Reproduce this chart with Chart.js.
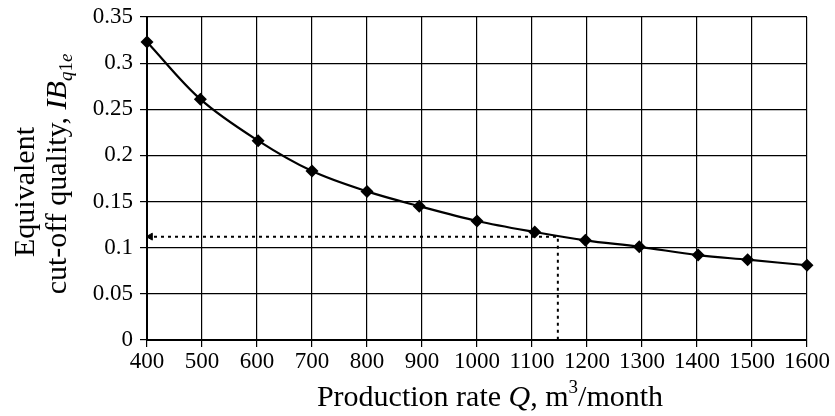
<!DOCTYPE html>
<html>
<head>
<meta charset="utf-8">
<script src="https://cdn.jsdelivr.net/npm/chart.js@4"></script>
<style>
  html, body { margin: 0; padding: 0; background: #fff; }
  #wrap { width: 835px; height: 416px; }
</style>
</head>
<body>
<div id="wrap"><canvas id="chart" width="835" height="416"></canvas></div>
<script>
const RATE = [400, 497, 602, 700, 800, 895, 1000, 1105, 1197, 1295, 1402, 1492, 1600];
const CUTOFF = [0.323, 0.261, 0.216, 0.183, 0.161, 0.145, 0.129, 0.117, 0.108, 0.101, 0.092, 0.087, 0.081];
const READ_Q = 1147;
const READ_IB = 0.112;
const X_TICKS = [400, 500, 600, 700, 800, 900, 1000, 1100, 1200, 1300, 1400, 1500, 1600];
const X_TICK_LABELS = ['400', '500', '600', '700', '800', '900', '1000', '1100', '1200', '1300', '1400', '1500', '1600'];
const Y_TICKS = [0, 0.05, 0.1, 0.15, 0.2, 0.25, 0.3, 0.35];
const Y_TICK_LABELS = ['0', '0.05', '0.1', '0.15', '0.2', '0.25', '0.3', '0.35'];

const FONT = '"Liberation Serif", "Times New Roman", serif';

// draws a run of [text, style, size, dy] pieces centred at 0,0
function drawRuns(ctx, runs) {
  const widths = runs.map(r => { ctx.font = `${r[1]} ${r[2]}px ${FONT}`; return ctx.measureText(r[0]).width; });
  const total = widths.reduce((s, w) => s + w, 0);
  let x = -total / 2;
  runs.forEach((r, i) => {
    ctx.font = `${r[1]} ${r[2]}px ${FONT}`;
    ctx.fillText(r[0], x, r[3]);
    x += widths[i];
  });
}

const titles = {
  id: 'titles',
  afterDraw(chart) {
    const ctx = chart.ctx;
    ctx.save();
    ctx.fillStyle = '#000';
    ctx.textBaseline = 'alphabetic';
    ctx.textAlign = 'left';

    // x title
    ctx.save();
    ctx.translate(490, 406);
    drawRuns(ctx, [
      ['Production rate ', 'normal', 30, 0],
      ['Q', 'italic', 30, 0],
      [', m', 'normal', 30, 0],
      ['3', 'normal', 19, -13],
      ['/month', 'normal', 30, 0]
    ]);
    ctx.restore();

    // y title, two lines
    ctx.save();
    ctx.translate(34, 192);
    ctx.rotate(-Math.PI / 2);
    drawRuns(ctx, [['Equivalent', 'normal', 30, 0]]);
    ctx.restore();

    ctx.save();
    ctx.translate(66, 174);
    ctx.rotate(-Math.PI / 2);
    drawRuns(ctx, [
      ['cut-off quality, ', 'normal', 30, 0],
      ['IB', 'italic', 30, 0],
      ['q', 'italic', 19, 6],
      ['1', 'normal', 19, 6],
      ['e', 'italic', 19, 6]
    ]);
    ctx.restore();
    ctx.restore();
  }
};

new Chart(document.getElementById('chart'), {
  type: 'line',
  data: {
    datasets: [
      {
        data: RATE.map((q, i) => ({ x: q, y: CUTOFF[i] })),
        borderColor: '#000', backgroundColor: '#000',
        borderWidth: 2.2, tension: 0.35,
        pointStyle: 'rectRot', pointRadius: 6.5, pointBorderWidth: 0,
        clip: false
      },
      {
        data: [{ x: X_TICKS[0], y: READ_IB }, { x: READ_Q, y: READ_IB }, { x: READ_Q, y: 0 }],
        borderColor: '#000', borderWidth: 2, borderDash: [3, 4],
        pointRadius: 0, tension: 0
      },
      {
        data: [{ x: X_TICKS[0] + 6, y: READ_IB }],
        showLine: false, pointStyle: 'triangle', rotation: -90,
        pointRadius: 4, backgroundColor: '#000', borderColor: '#000', clip: false
      }
    ]
  },
  options: {
    responsive: false, animation: false,
    layout: { padding: { top: 17, right: 28, bottom: 0, left: 0 } },
    plugins: { legend: { display: false }, tooltip: { enabled: false } },
    scales: {
      x: {
        type: 'linear', min: 400, max: 1600,
        afterBuildTicks: s => { s.ticks = X_TICKS.map(v => ({ value: v })); },
        afterFit: s => { s.height = 76; },
        ticks: {
          color: '#000', font: { family: FONT, size: 23 }, padding: 1, maxRotation: 0,
          callback: (v, i) => X_TICK_LABELS[i]
        },
        grid: { color: '#000', lineWidth: 1.2, tickLength: 7 },
        border: { color: '#000', width: 2 }
      },
      y: {
        min: 0, max: 0.35,
        afterBuildTicks: s => { s.ticks = Y_TICKS.map(v => ({ value: v })); },
        afterFit: s => { s.width = 147; },
        ticks: {
          color: '#000', font: { family: FONT, size: 23, lineHeight: 0.8 }, padding: 7,
          callback: (v, i) => Y_TICK_LABELS[i]
        },
        grid: { color: '#000', lineWidth: 1.2, tickLength: 7 },
        border: { color: '#000', width: 2 }
      }
    }
  },
  plugins: [titles]
});
</script>
</body>
</html>
